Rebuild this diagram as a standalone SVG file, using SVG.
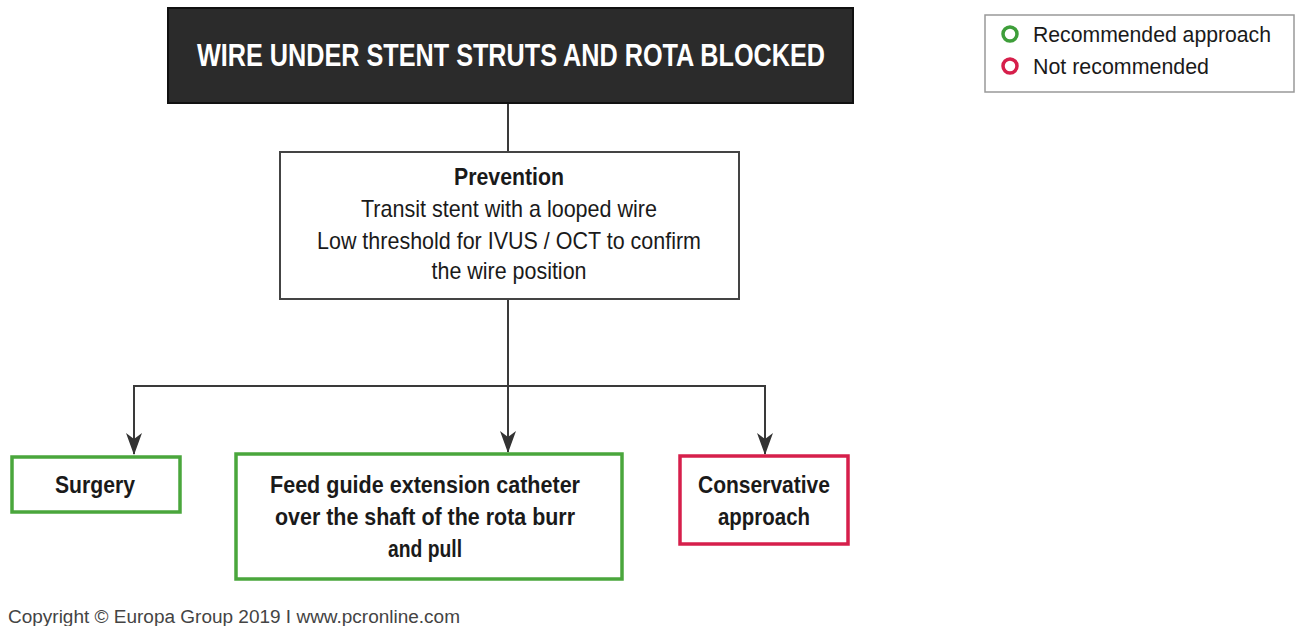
<svg xmlns="http://www.w3.org/2000/svg" width="1296" height="626" viewBox="0 0 1296 626">
<style>
.t{font-family:"Liberation Sans",Arial,sans-serif;fill:#1a1a1a;text-anchor:middle;font-size:24px}
.b{font-weight:bold}
.ln{fill:none;stroke:#3a3a3a;stroke-width:2}
.g{fill:#fff;stroke:#4aa63c;stroke-width:3.5}
.r{fill:#fff;stroke:#d61f4b;stroke-width:3.5}
.lg{font-family:"Liberation Sans",Arial,sans-serif;fill:#1a1a1a;font-size:22px}
</style>
<defs>
<marker id="ah" markerWidth="22" markerHeight="16" refX="21" refY="8" orient="auto" markerUnits="userSpaceOnUse" viewBox="0 0 22 16">
<path d="M0,0 L22,8 L0,16 L6,8 Z" fill="#333"/>
</marker>
</defs>
<rect width="1296" height="626" fill="#fff"/>
<g id="connectors">
<line class="ln" x1="508" y1="103" x2="508" y2="152"/>
<line class="ln" x1="508" y1="299" x2="508" y2="452" marker-end="url(#ah)"/>
<polyline class="ln" points="134,430 134,386 765,386 765,430"/>
<line class="ln" x1="134" y1="386" x2="134" y2="454" marker-end="url(#ah)"/>
<line class="ln" x1="765" y1="386" x2="765" y2="454" marker-end="url(#ah)"/>
</g>
<g id="title">
<rect x="168" y="8" width="685" height="95" fill="#2b2b2b" stroke="#111" stroke-width="2"/>
<text x="511" y="66" font-family="Liberation Sans, Arial, sans-serif" font-weight="bold" font-size="32" fill="#fff" text-anchor="middle" textLength="628" lengthAdjust="spacingAndGlyphs">WIRE UNDER STENT STRUTS AND ROTA BLOCKED</text>
</g>
<g id="legend">
<rect x="985" y="15" width="309" height="77" fill="#fff" stroke="#999" stroke-width="1.5"/>
<circle cx="1010" cy="34" r="7" fill="none" stroke="#3e9e3a" stroke-width="3.5"/>
<circle cx="1010" cy="66" r="7" fill="none" stroke="#d61f4b" stroke-width="3.5"/>
<text class="lg" x="1033" y="42" textLength="238" lengthAdjust="spacingAndGlyphs">Recommended approach</text>
<text class="lg" x="1033" y="74" textLength="176" lengthAdjust="spacingAndGlyphs">Not recommended</text>
</g>
<g id="prevention">
<rect x="280" y="152" width="459" height="147" fill="#fff" stroke="#444" stroke-width="2"/>
<text class="t b" x="509" y="185" textLength="110" lengthAdjust="spacingAndGlyphs">Prevention</text>
<text class="t" x="509" y="217" textLength="296" lengthAdjust="spacingAndGlyphs">Transit stent with a looped wire</text>
<text class="t" x="509" y="249" textLength="384" lengthAdjust="spacingAndGlyphs">Low threshold for IVUS / OCT to confirm</text>
<text class="t" x="509" y="279" textLength="155" lengthAdjust="spacingAndGlyphs">the wire position</text>
</g>
<g id="surgery">
<rect class="g" x="12" y="457" width="168" height="55"/>
<text class="t b" x="95" y="493" textLength="80" lengthAdjust="spacingAndGlyphs">Surgery</text>
</g>
<g id="feed">
<rect class="g" x="236" y="454" width="386" height="125"/>
<text class="t b" x="425" y="493" textLength="310" lengthAdjust="spacingAndGlyphs">Feed guide extension catheter</text>
<text class="t b" x="425" y="525" textLength="300" lengthAdjust="spacingAndGlyphs">over the shaft of the rota burr</text>
<text class="t b" x="425" y="557" textLength="74" lengthAdjust="spacingAndGlyphs">and pull</text>
</g>
<g id="conservative">
<rect class="r" x="680" y="456" width="168" height="88"/>
<text class="t b" x="764" y="493" textLength="132" lengthAdjust="spacingAndGlyphs">Conservative</text>
<text class="t b" x="764" y="525" textLength="92" lengthAdjust="spacingAndGlyphs">approach</text>
</g>
<g id="copyright">
<text x="8" y="623" font-family="Liberation Sans, Arial, sans-serif" font-size="18" fill="#444" textLength="452" lengthAdjust="spacingAndGlyphs">Copyright © Europa Group 2019 I www.pcronline.com</text>
</g>
</svg>
